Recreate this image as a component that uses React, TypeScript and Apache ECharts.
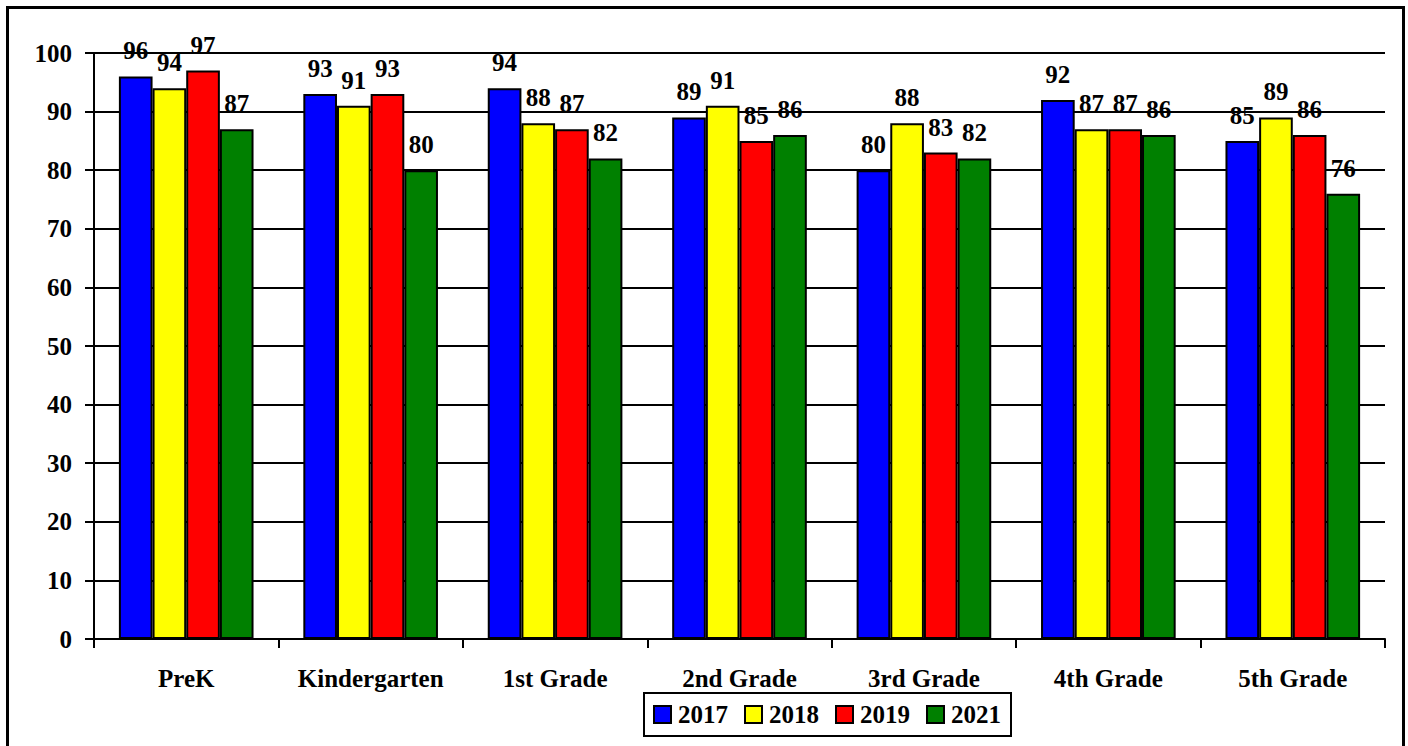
import React, { useEffect, useRef } from "react";
import * as echarts from "echarts";

const categories = ["PreK", "Kindergarten", "1st Grade", "2nd Grade", "3rd Grade", "4th Grade", "5th Grade"];
const seriesNames = ["2017", "2018", "2019", "2021"];
const values2017 = [96, 93, 94, 89, 80, 92, 85];
const values2018 = [94, 91, 88, 91, 88, 87, 89];
const values2019 = [97, 93, 87, 85, 83, 87, 86];
const values2021 = [87, 80, 82, 86, 82, 86, 76];
const colors = ["#0000FF", "#FFFF00", "#FF0000", "#008000"];

const FONT = "'Liberation Serif', 'Times New Roman', serif";

export default function App() {
  const ref = useRef<HTMLDivElement>(null);
  useEffect(() => {
    if (!ref.current) return;
    const chart = echarts.init(ref.current, null, { renderer: "svg" });
    const allValues = [values2017, values2018, values2019, values2021];
    const textStyle = { fontFamily: FONT, fontWeight: "bold" as const, fontSize: 25, color: "#000" };
    chart.setOption({
      animation: false,
      backgroundColor: "#fff",
      textStyle: { fontFamily: FONT },
      graphic: [
        {
          type: "rect",
          shape: { x: 7.5, y: 7.5, width: 1396, height: 760 },
          style: { fill: "none", stroke: "#000", lineWidth: 3 },
          silent: true,
        },
      ],
      grid: { left: 94, right: 23, top: 53, bottom: 107, containLabel: false },
      legend: {
        data: seriesNames,
        left: 644,
        top: 693,
        orient: "horizontal",
        icon: "rect",
        itemWidth: 17,
        itemHeight: 17,
        itemGap: 16,
        padding: [9, 10, 9, 9],
        borderColor: "#000",
        borderWidth: 2,
        backgroundColor: "#fff",
        textStyle: { ...textStyle, padding: [0, 0, 0, 2] },
        itemStyle: { borderColor: "#000", borderWidth: 2 },
      },
      xAxis: {
        type: "category",
        data: categories,
        axisLine: { show: true, lineStyle: { color: "#000", width: 2 } },
        axisTick: { show: true, interval: 0, length: 9, lineStyle: { color: "#000", width: 2 } },
        axisLabel: { ...textStyle, interval: 0, margin: 27 },
        splitLine: { show: false },
      },
      yAxis: {
        type: "value",
        min: 0,
        max: 100,
        interval: 10,
        axisLine: { show: true, lineStyle: { color: "#000", width: 2 } },
        axisTick: { show: true, length: 9, lineStyle: { color: "#000", width: 2 } },
        axisLabel: { ...textStyle, margin: 22 },
        splitLine: { show: true, lineStyle: { color: "#000", width: 2 } },
      },
      series: seriesNames.map((name, i) => ({
        name,
        type: "bar",
        data: allValues[i],
        barGap: "0%",
        barCategoryGap: "27%",
        itemStyle: { color: colors[i], borderColor: "#000", borderWidth: 2 },
        label: { show: true, position: "top", distance: 13, ...textStyle },
      })),
    });
    return () => chart.dispose();
  }, []);
  return (
    <div
      ref={ref}
      style={{ position: "fixed", left: 0, top: 0, width: 1408, height: 746, background: "#fff" }}
    />
  );
}
